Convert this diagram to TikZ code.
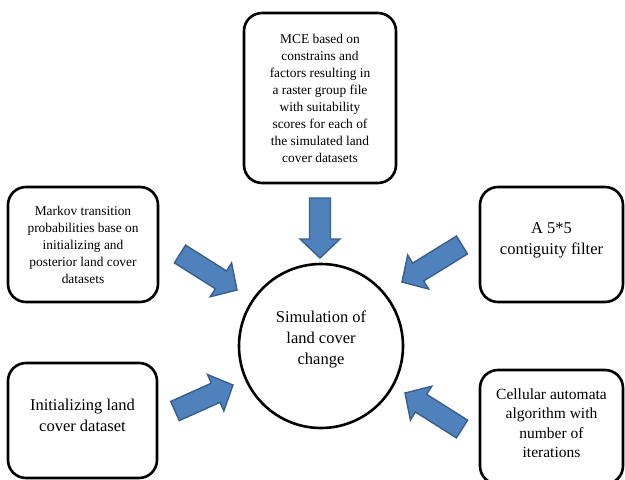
\documentclass[tikz,border=0pt]{standalone}
\usepackage{fontspec}
\setmainfont{Liberation Serif}
\usetikzlibrary{calc}
\definecolor{arrowblue}{HTML}{4F81BD}
\definecolor{arrowedge}{HTML}{3A5F8B}

% block arrow from tail #1 to tip #2
\newcommand{\blockarrow}[2]{%
\coordinate (ba-h) at ($(#2)!19pt!(#1)$);
\filldraw[blockarr] ($(#1)!10.5pt!90:(#2)$) -- ($(ba-h)!10.5pt!90:(#2)$) -- ($(ba-h)!20pt!90:(#2)$) -- (#2)
  -- ($(ba-h)!20pt!-90:(#2)$) -- ($(ba-h)!10.5pt!-90:(#2)$) -- ($(#1)!10.5pt!-90:(#2)$) -- cycle;}

\begin{document}
\begin{tikzpicture}[x=1pt,y=-1pt,
  box/.style={draw, line width=2.6pt, rounded corners=18pt, align=center, inner sep=0pt},
  smalltext/.style={font=\fontsize{13.4}{17}\selectfont},
  bigtext/.style={font=\fontsize{16.5}{21}\selectfont},
  blockarr/.style={fill=arrowblue, draw=arrowedge, line width=1.4pt, line join=miter}]
\useasboundingbox (0,0) rectangle (625,480);

\node[box, smalltext, minimum width=152pt, minimum height=170pt] (mce) at (320,98)
  {MCE based on\\constrains and\\factors resulting in\\a raster group file\\with suitability\\scores for each of\\the simulated land\\cover datasets};
\node[box, smalltext, minimum width=150pt, minimum height=115pt] (markov) at (83,244.5)
  {Markov transition\\probabilities base on\\initializing and\\posterior land cover\\datasets};
\node[box, bigtext, minimum width=143pt, minimum height=115pt, text depth=12pt] (filter) at (551.5,244.5)
  {A 5*5\\contiguity filter};
\node[box, bigtext, minimum width=149pt, minimum height=115pt, text depth=10pt] (init) at (82.5,420.5)
  {Initializing land\\cover dataset};
\node[box, font=\fontsize{15.5}{19.5}\selectfont, minimum width=143pt, minimum height=114pt, text depth=8pt] (cellular) at (551.5,427)
  {Cellular automata\\algorithm with\\number of\\iterations};

\node[draw, circle, line width=2.6pt, minimum size=164pt, align=center, bigtext, text depth=16pt] (sim) at (321,346)
  {Simulation of\\land cover\\change};

% arrows into the simulation
\coordinate (mce-tail) at (320,198);
\coordinate (mce-tip) at (320,258);
\coordinate (markov-tail) at (180,254);
\coordinate (markov-tip) at (237,290);
\coordinate (filter-tail) at (462,245);
\coordinate (filter-tip) at (402,282);
\coordinate (init-tail) at (175,411);
\coordinate (init-tip) at (233,385);
\coordinate (cellular-tail) at (462,429);
\coordinate (cellular-tip) at (405,393);
\blockarrow{mce-tail}{mce-tip}
\blockarrow{markov-tail}{markov-tip}
\blockarrow{filter-tail}{filter-tip}
\blockarrow{init-tail}{init-tip}
\blockarrow{cellular-tail}{cellular-tip}
\end{tikzpicture}
\end{document}
